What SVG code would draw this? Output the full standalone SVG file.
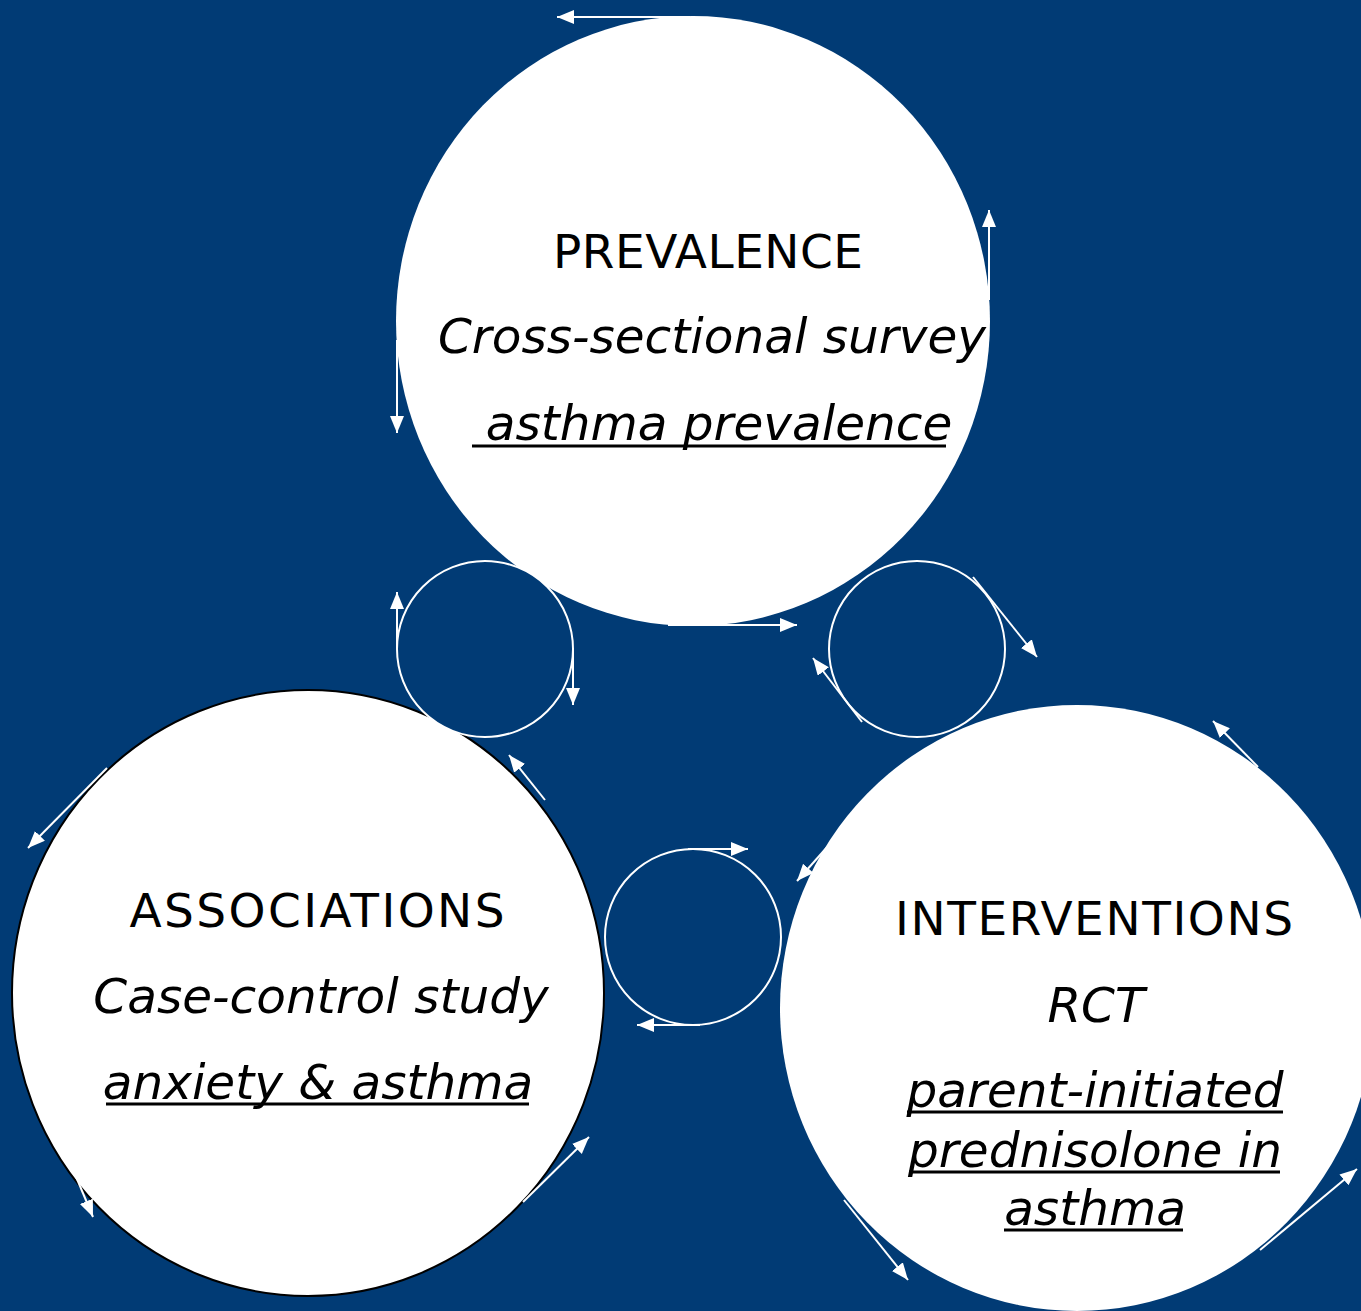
<svg xmlns="http://www.w3.org/2000/svg" width="1361" height="1311" viewBox="0 0 1361 1311">
  <defs>
    <marker id="head" markerUnits="userSpaceOnUse" markerWidth="18" markerHeight="15" refX="17" refY="7" orient="auto">
      <path d="M0,0 L17,7 L0,14 z" fill="#ffffff"/>
    </marker>
  </defs>
  <style>
    .big { fill: #ffffff; }
    .ring { fill: #013b75; stroke: #ffffff; stroke-width: 2; }
    .title { font-family: "DejaVu Sans", Verdana, sans-serif; font-size: 47px; fill: #000000; text-anchor: middle; }
    .sub { font-family: "DejaVu Sans", Verdana, sans-serif; font-size: 48.5px; font-style: italic; fill: #000000; text-anchor: middle; }
    .ul { stroke: #000000; stroke-width: 3; }
    .arrow { stroke: #ffffff; stroke-width: 2; fill: none; marker-end: url(#head); }
  </style>

  <rect width="1361" height="1311" fill="#013b75"/>

  <!-- large study-type circles -->
  <g id="prevalence">
    <ellipse class="big" cx="693" cy="321" rx="297" ry="305"/>
    <text class="title" x="708" y="268" textLength="310" lengthAdjust="spacing">PREVALENCE</text>
    <text class="sub" x="712" y="353">Cross-sectional survey</text>
    <text class="sub" x="719" y="440">asthma prevalence</text>
    <line class="ul" x1="472" y1="446" x2="946" y2="446"/>
  </g>

  <g id="associations">
    <ellipse class="big" cx="308" cy="993" rx="296" ry="303" stroke="#000000" stroke-width="2"/>
    <text class="title" x="317" y="927" textLength="375" lengthAdjust="spacing">ASSOCIATIONS</text>
    <text class="sub" x="321" y="1013">Case-control study</text>
    <text class="sub" x="318" y="1099">anxiety &amp; asthma</text>
    <line class="ul" x1="106" y1="1104" x2="529" y2="1104"/>
  </g>

  <g id="interventions">
    <ellipse class="big" cx="1077" cy="1008" rx="297" ry="303"/>
    <text class="title" x="1094" y="935" textLength="398" lengthAdjust="spacing">INTERVENTIONS</text>
    <text class="sub" x="1096" y="1022">RCT</text>
    <text class="sub" x="1095" y="1107">parent-initiated</text>
    <line class="ul" x1="907" y1="1112" x2="1283" y2="1112"/>
    <text class="sub" x="1095" y="1167">prednisolone in</text>
    <line class="ul" x1="909" y1="1172" x2="1280" y2="1172"/>
    <text class="sub" x="1095" y="1225">asthma</text>
    <line class="ul" x1="1004" y1="1230" x2="1183" y2="1230"/>
  </g>

  <!-- small cycle rings between the circles -->
  <g id="cycle-left">
    <circle class="ring" cx="485" cy="649" r="88"/>
  </g>
  <g id="cycle-right">
    <circle class="ring" cx="917" cy="649" r="88"/>
  </g>
  <g id="cycle-bottom">
    <circle class="ring" cx="693" cy="937" r="88"/>
  </g>

  <!-- tangent arrows -->
  <g id="connectors">
    <line class="arrow" x1="690" y1="17" x2="557" y2="17"/>
    <line class="arrow" x1="989" y1="300" x2="989" y2="210"/>
    <line class="arrow" x1="397" y1="340" x2="397" y2="433"/>
    <line class="arrow" x1="668" y1="625" x2="797" y2="625"/>

    <line class="arrow" x1="397" y1="648" x2="397" y2="592"/>
    <line class="arrow" x1="573" y1="648" x2="573" y2="705"/>
    <line class="arrow" x1="973" y1="577" x2="1037" y2="657"/>
    <line class="arrow" x1="862" y1="722" x2="813" y2="658"/>
    <line class="arrow" x1="688" y1="849" x2="748" y2="849"/>
    <line class="arrow" x1="700" y1="1025" x2="637" y2="1025"/>

    <line class="arrow" x1="107" y1="768" x2="28" y2="848"/>
    <line class="arrow" x1="545" y1="800" x2="509" y2="755"/>
    <line class="arrow" x1="69" y1="1160" x2="93" y2="1217"/>
    <line class="arrow" x1="523" y1="1202" x2="589" y2="1137"/>

    <line class="arrow" x1="1258" y1="767" x2="1213" y2="721"/>
    <line class="arrow" x1="845" y1="827" x2="797" y2="881"/>
    <line class="arrow" x1="844" y1="1200" x2="908" y2="1280"/>
    <line class="arrow" x1="1260" y1="1250" x2="1357" y2="1169"/>
  </g>
</svg>
